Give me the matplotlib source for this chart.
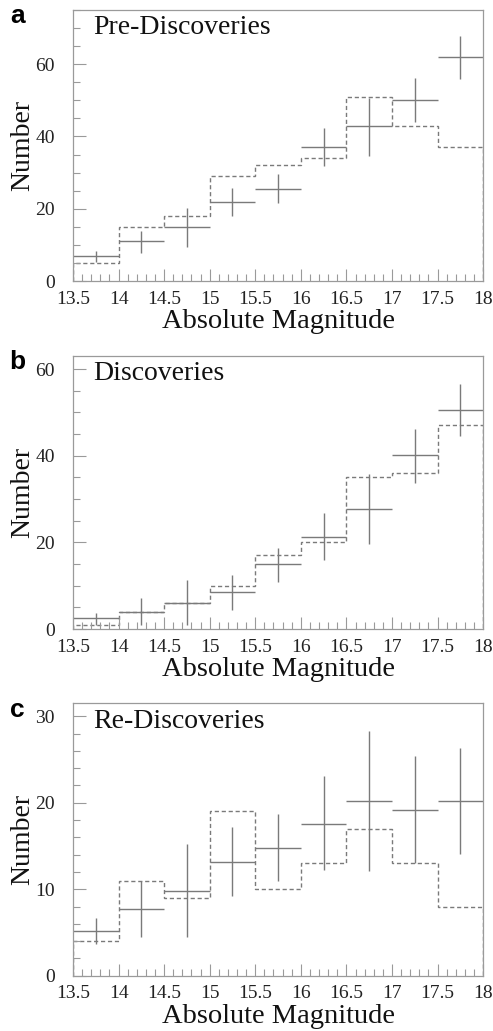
import matplotlib
matplotlib.use('Agg')
import matplotlib.pyplot as plt
import numpy as np
from matplotlib.ticker import MultipleLocator

# bin edges of absolute magnitude
edges = [13.5, 14.0, 14.5, 15.0, 15.5, 16.0, 16.5, 17.0, 17.5, 18.0]

# Pre-Discoveries
pre_val = [7, 11, 15, 22, 25.6, 37, 43, 50, 62]
pre_hi = [8.4, 13.9, 20.2, 25.7, 29.5, 42.4, 50.7, 56.3, 67.9]
pre_lo = [5.4, 7.7, 9.5, 17.9, 21.6, 31.8, 34.7, 44.0, 55.8]
pre_model = [5, 15, 18, 29, 32, 34, 51, 43, 37]

# Discoveries
dis_val = [2.5, 4.0, 6.0, 8.5, 15, 21.3, 27.8, 40.1, 50.6]
dis_hi = [3.8, 7.2, 11.3, 12.5, 18.6, 26.7, 35.7, 46.1, 56.6]
dis_lo = [0.9, 0.9, 0.9, 4.4, 10.9, 15.9, 19.6, 33.8, 44.6]
dis_model = [1, 4, 6, 10, 17, 20, 35, 36, 47]

# Re-Discoveries
re_val = [5.16, 7.7, 9.8, 13.2, 14.8, 17.6, 20.2, 19.2, 20.2]
re_hi = [6.7, 10.9, 15.2, 17.2, 18.75, 23.1, 28.3, 25.4, 26.3]
re_lo = [3.7, 4.5, 4.5, 9.2, 10.9, 12.2, 12.1, 13.0, 14.1]
re_model = [4, 11, 9, 19, 10, 13, 17, 13, 8]

xticks = [13.5, 14, 14.5, 15, 15.5, 16, 16.5, 17, 17.5, 18]
xticklabels = ['13.5', '14', '14.5', '15', '15.5', '16', '16.5', '17', '17.5', '18']

panels = [
    ('a', 'Pre-Discoveries', pre_val, pre_hi, pre_lo, pre_model, 75, 20, 5,
     [0.148, 0.7274, 0.832, 0.2629]),
    ('b', 'Discoveries', dis_val, dis_hi, dis_lo, dis_model, 63, 20, 5,
     [0.148, 0.3899, 0.832, 0.2648]),
    ('c', 'Re-Discoveries', re_val, re_hi, re_lo, re_model, 31.5, 10, 2,
     [0.148, 0.0536, 0.832, 0.2642]),
]

plt.rcParams['font.family'] = ['Liberation Serif', 'DejaVu Serif']
line_col = '#7a7a7a'
spine_col = '#9a9a9a'

fig = plt.figure(figsize=(4.93, 10.31), dpi=100)

for letter, name, val, hi, lo, model, ymax, major, minor, pos in panels:
    ax = fig.add_axes(pos)
    e = np.array(edges)
    centers = (e[:-1] + e[1:]) / 2
    val = np.array(val)
    # model histogram (dashed)
    ax.stairs(model, e, color=line_col, linestyle=(0, (3, 2)), linewidth=1.0)
    # data points with error bars
    ax.hlines(val, e[:-1], e[1:], color=line_col, linewidth=1.0)
    ax.vlines(centers, lo, hi, color=line_col, linewidth=1.0)

    ax.set_xlim(13.5, 18)
    ax.set_ylim(0, ymax)
    ax.set_xticks(xticks)
    ax.set_xticklabels(xticklabels)
    ax.xaxis.set_minor_locator(MultipleLocator(0.1))
    ax.yaxis.set_major_locator(MultipleLocator(major))
    ax.yaxis.set_minor_locator(MultipleLocator(minor))
    ax.tick_params(which='both', direction='in', colors=spine_col,
                   labelcolor='#222222', labelsize=14, top=False, right=False)
    ax.tick_params(which='major', length=9, width=0.8)
    ax.tick_params(which='minor', length=5, width=0.8)
    ax.tick_params(axis='x', which='major', pad=7)
    ax.tick_params(axis='y', which='major', pad=13)
    for s in ax.spines.values():
        s.set_color(spine_col)
        s.set_linewidth(0.9)

    ax.set_xlabel('Absolute Magnitude', fontsize=20.5, color='#111111', labelpad=1)
    ax.set_ylabel('Number', fontsize=20, color='#111111', labelpad=0)
    ax.text(0.05, 0.935, name, transform=ax.transAxes, fontsize=20,
            color='#111111', ha='left', va='center')
    fig.text(0.036, pos[1] + pos[3] - 0.006, letter, fontsize=19,
             fontweight='bold', family='Liberation Sans', ha='center',
             va='center', color='black')

fig.savefig('out.png', dpi=100)
